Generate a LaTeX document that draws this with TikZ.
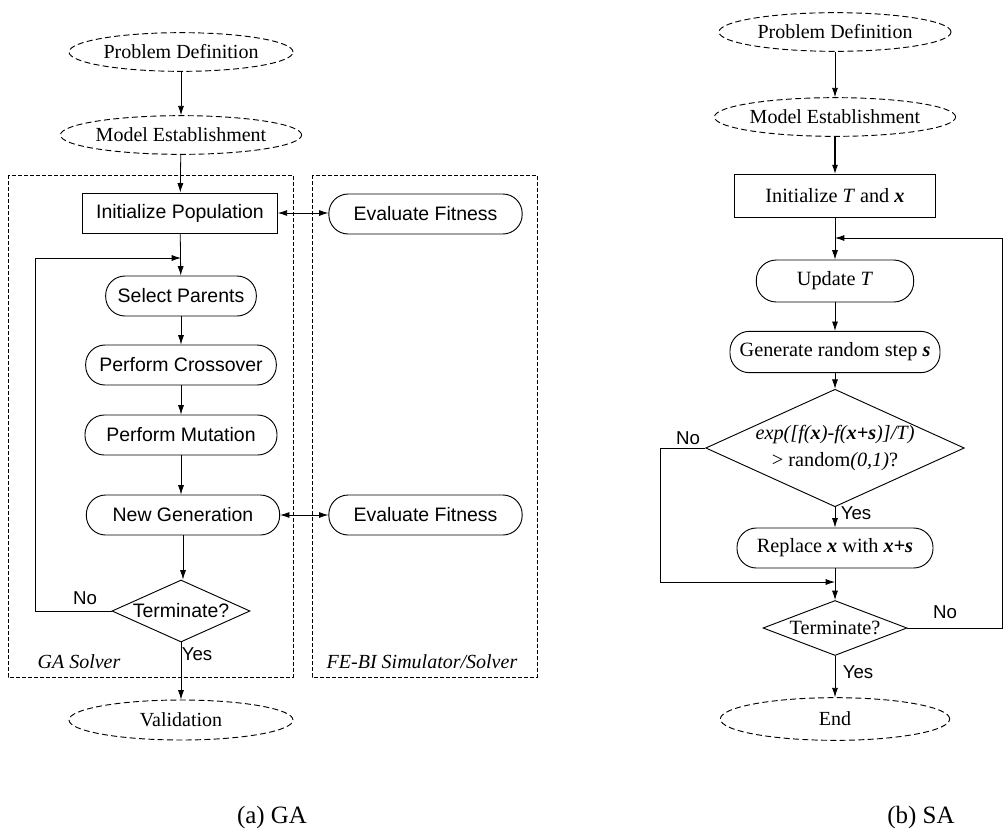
\documentclass[tikz,border=0pt]{standalone}
\usepackage{fontspec}
\setmainfont{Liberation Serif}
\setsansfont{Liberation Sans}
\usetikzlibrary{shapes.geometric, arrows.meta}

\tikzset{
    terminal/.style={draw, ellipse, dash pattern=on 4.5pt off 2.5pt, inner sep=0pt,
        minimum width=168pt, minimum height=29pt, font=\fontsize{15}{17}\selectfont},
    initbox/.style={draw, rectangle, inner sep=0pt, minimum height=30pt},
    roundbox/.style={draw, rounded corners=14.5pt, inner sep=0pt, minimum height=30pt},
    decision/.style={draw, diamond, inner sep=0pt, aspect=2.2},
    gafont/.style={font=\sffamily\fontsize{14.6}{17}\selectfont},
    safont/.style={font=\fontsize{15.2}{18}\selectfont},
    solverbox/.style={draw, dash pattern=on 3pt off 1.5pt, line width=0.5pt},
    flow/.style={->, >={Latex[length=7pt, width=4.5pt]}, line width=0.6pt},
    answer/.style={font=\sffamily\fontsize{14}{16}\selectfont},
}

\begin{document}
\begin{tikzpicture}[x=0.75pt, y=-0.75pt, line width=0.7pt]
    \useasboundingbox (0,0) rectangle (1003,833);

    % (a) GA
    \draw [solverbox] (8,175) rectangle (293,677);
    \draw [solverbox] (312,175) rectangle (537,677);
    \node [terminal] (pdA) at (181,52) {Problem Definition};
    \node [terminal] (meA) at (181,135) {Model Establishment};
    \node [initbox, gafont, minimum width=146pt] (initA) at (180,213) {Initialize Population};
    \node [roundbox, gafont, minimum width=145pt] (evalA1) at (425.5,214) {Evaluate Fitness};
    \node [roundbox, gafont, minimum width=113pt] (selA) at (181,296) {Select Parents};
    \node [roundbox, gafont, minimum width=143pt] (crossA) at (181,365) {Perform Crossover};
    \node [roundbox, gafont, minimum width=144pt] (mutA) at (181,435) {Perform Mutation};
    \node [roundbox, gafont, minimum width=145pt] (newA) at (183,515) {New Generation};
    \node [roundbox, gafont, minimum width=145pt] (evalA2) at (425.5,515) {Evaluate Fitness};
    \node [decision, gafont, minimum width=103.5pt, minimum height=46.5pt] (termA) at (181,611) {Terminate?};
    \node [terminal, minimum height=30pt] (valA) at (181,720) {Validation};
    \node [font=\itshape\fontsize{15}{17}\selectfont] (gaLbl) at (79,662) {GA Solver};
    \node [font=\itshape\fontsize{15}{17}\selectfont] (feLbl) at (422,662) {FE-BI Simulator/Solver};
    \node [answer] (noA) at (85,598) {No};
    \node [answer] (yesA) at (197,654) {Yes};
    \coordinate (jA) at (181,258);
    \coordinate (loopA) at (35,258);

    \draw [flow] (pdA) -- (meA);
    \draw [flow] (meA) -- (initA);
    \draw [flow] (initA) -- (selA);
    \draw [flow] (selA) -- (crossA);
    \draw [flow] (crossA) -- (mutA);
    \draw [flow] (mutA.south) -- (mutA.south |- newA.north);
    \draw [flow] (newA.south) -- (newA.south |- termA.north);
    \draw [flow] (termA) -- (valA);
    \draw [flow] (termA.west) -| (loopA) -- (jA);
    \draw [flow, <->] (initA.east) -- (initA.east -| evalA1.west);
    \draw [flow, <->] (newA) -- (evalA2);
    \node [font=\fontsize{18.7}{22}\selectfont] (capA) at (272,817) {(a) GA};

    % (b) SA
    \node [terminal, minimum width=174pt] (pdB) at (835,32) {Problem Definition};
    \node [terminal, minimum width=174pt] (meB) at (835,117) {Model Establishment};
    \node [initbox, safont, minimum width=151pt, minimum height=32pt] (initB) at (835,196)
        {Initialize \textit{T} and \textbf{\textit{x}}};
    \node [roundbox, safont, minimum width=118pt, minimum height=31.5pt, rounded corners=15pt] (updB) at (835,281)
        {Update \textit{T}};
    \node [roundbox, safont, minimum width=157.5pt, minimum height=31pt] (genB) at (835,352)
        {Generate random step \textbf{\textit{s}}};
    \node [decision, safont, align=center, minimum width=187pt, minimum height=75pt] (accB) at (835,448)
        {\textit{exp([f(\textbf{x})-f(\textbf{x+s})]/T)}\\[2pt] {>} random\textit{(0,1)}?};
    \node [roundbox, safont, minimum width=147pt] (repB) at (835,548)
        {Replace \textbf{\textit{x}} with \textbf{\textit{x+s}}};
    \node [decision, safont, minimum width=108pt, minimum height=40.5pt] (termB) at (835,628) {Terminate?};
    \node [terminal, minimum width=172pt, minimum height=32pt] (endB) at (835,719) {End};
    \node [answer] (noB1) at (688,438) {No};
    \node [answer] (yesB1) at (856,513) {Yes};
    \node [answer] (noB2) at (945,612) {No};
    \node [answer] (yesB2) at (858,672) {Yes};
    \coordinate (jB) at (835,238);
    \coordinate (backB) at (1002,238);
    \coordinate (mB) at (835,582);
    \coordinate (rejB) at (660,582);

    \draw [flow] (pdB) -- (meB);
    \draw [flow, line width=1pt] (meB) -- (initB);
    \draw [flow] (initB) -- (updB);
    \draw [flow] (updB) -- (genB);
    \draw [flow] (genB) -- (accB);
    \draw [flow] (accB) -- (repB);
    \draw [flow] (repB) -- (termB);
    \draw [flow] (termB) -- (endB);
    \draw [flow] (accB.west) -| (rejB) -- (mB);
    \draw [flow] (termB.east) -| (backB) -- (jB);
    \node [font=\fontsize{18.7}{22}\selectfont] (capB) at (921,817) {(b) SA};
\end{tikzpicture}
\end{document}
